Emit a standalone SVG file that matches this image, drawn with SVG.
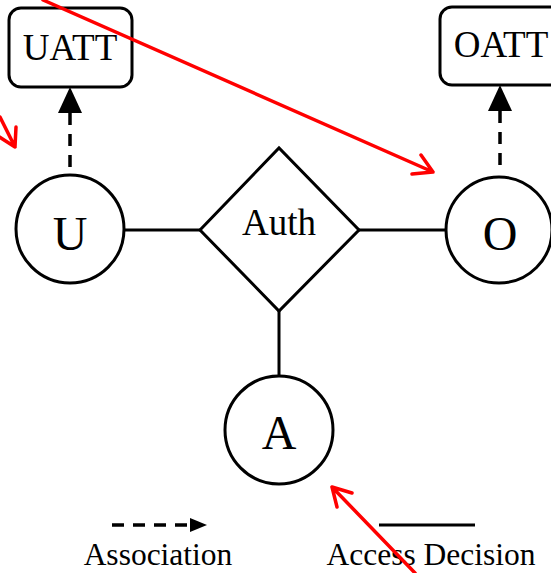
<svg xmlns="http://www.w3.org/2000/svg" width="551" height="573" viewBox="0 0 551 573">
  <defs>
    <style>
      .shape { fill: #fff; stroke: #000; stroke-width: 3; }
      .link { fill: none; stroke: #000; stroke-width: 3; }
      .assoc { fill: none; stroke: #000; stroke-width: 3.5; stroke-dasharray: 12 9; }
      .head { fill: #000; stroke: none; }
      .note { fill: none; stroke: #ff0000; stroke-width: 3.5; stroke-linecap: round; stroke-linejoin: round; }
      text { font-family: "Liberation Serif", "Times New Roman", serif; fill: #000; text-anchor: middle; }
      .big { font-size: 48px; }
      .mid { font-size: 37px; }
      .legend { font-size: 31.5px; }
    </style>
  </defs>

  <rect width="551" height="573" fill="#fff"/>

  <!-- connectors -->
  <g id="connectors">
    <line class="link" x1="124" y1="230" x2="200" y2="230"/>
    <line class="link" x1="359" y1="230" x2="446" y2="230"/>
    <line class="link" x1="279" y1="310" x2="279" y2="376"/>
    <!-- U to UATT association -->
    <line class="assoc" x1="70" y1="167" x2="70" y2="113"/>
    <polygon class="head" points="70,87 58,113 82,113"/>
    <!-- O to OATT association -->
    <line class="assoc" x1="500" y1="165" x2="500" y2="111"/>
    <polygon class="head" points="500,85 488,111 512,111"/>
  </g>

  <!-- nodes -->
  <g id="uatt">
    <rect class="shape" x="9" y="8" width="123" height="79" rx="12"/>
    <text class="mid" x="70" y="60">UATT</text>
  </g>
  <g id="oatt">
    <rect class="shape" x="440" y="7" width="123" height="78" rx="12"/>
    <text class="mid" x="501" y="57">OATT</text>
  </g>
  <g id="u">
    <circle class="shape" cx="70" cy="229" r="54"/>
    <text class="big" x="70" y="250">U</text>
  </g>
  <g id="auth">
    <polygon class="shape" points="200,230 279,148 359,230 279,311"/>
    <text class="mid" x="279" y="235">Auth</text>
  </g>
  <g id="o">
    <circle class="shape" cx="499" cy="230" r="53"/>
    <text class="big" x="500" y="250">O</text>
  </g>
  <g id="a">
    <circle class="shape" cx="279" cy="430" r="54"/>
    <text class="big" x="279" y="449">A</text>
  </g>

  <!-- legend -->
  <g id="legend">
    <line class="assoc" x1="112" y1="525" x2="190" y2="525" stroke-dasharray="11 11"/>
    <polygon class="head" points="207,525 190,518 190,532"/>
    <text class="legend" x="158" y="565">Association</text>
    <line class="link" x1="379" y1="525" x2="475" y2="525"/>
    <text class="legend" x="431" y="565">Access Decision</text>
  </g>

  <!-- red annotation arrows -->
  <g id="annotations">
    <path class="note" d="M43,0 L433,172 M412,174 L433,172 L421,155"/>
    <path class="note" d="M0,117 L15,147 M16,127 L15,147 L-2,136"/>
    <path class="note" d="M415,573 L332,487 M352,493 L332,487 L337,507"/>
  </g>
</svg>
